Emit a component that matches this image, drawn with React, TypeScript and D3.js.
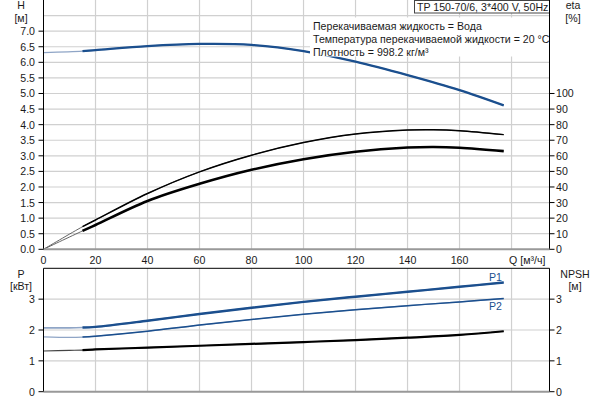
import React from "react";
import * as d3 from "d3";

// ---- data ----
const qTicks = [0, 20, 40, 60, 80, 100, 120, 140, 160];
const hTicks = [0, 0.5, 1, 1.5, 2, 2.5, 3, 3.5, 4, 4.5, 5, 5.5, 6, 6.5, 7];
const etaTicks = [0, 10, 20, 30, 40, 50, 60, 70, 80, 90, 100];
const pTicks = [0, 1, 2, 3];

const qH = [0, 15, 20, 40, 60, 80, 100, 120, 140, 160, 177];
const headH = [6.31, 6.36, 6.39, 6.52, 6.59, 6.56, 6.36, 6.02, 5.59, 5.11, 4.62];

const qEta = [0, 15, 20, 40, 60, 80, 100, 120, 140, 150, 160, 177];
const etaUpper = [0, 14.5, 18.8, 35.8, 49.7, 60.4, 68.5, 74.0, 76.5, 76.7, 76.1, 73.6];
const etaLower = [0, 11.8, 15.6, 31.0, 42.0, 51.0, 57.8, 62.6, 65.3, 65.7, 65.2, 63.0];

const qP = [0, 10, 15, 20, 40, 60, 80, 100, 120, 140, 160, 177];
const p1 = [2.07, 2.07, 2.08, 2.10, 2.30, 2.52, 2.72, 2.91, 3.08, 3.24, 3.40, 3.54];
const p2 = [1.78, 1.76, 1.77, 1.80, 1.96, 2.16, 2.34, 2.51, 2.66, 2.79, 2.91, 3.02];
const npsh = [1.32, 1.34, 1.35, 1.37, 1.43, 1.49, 1.55, 1.61, 1.67, 1.75, 1.84, 1.96];

const infoLines = [
  "Перекачиваемая жидкость = Вода",
  "Температура перекачиваемой жидкости = 20 °C",
  "Плотность = 998.2 кг/м³",
];
const titleText = "TP 150-70/6, 3*400 V, 50Hz";

// ---- layout ----
const L = 43.5;
const R = 549.5;
const topT = 0;
const topB = 249.3;
const botT = 268.3;
const botB = 391.7;

const BLUE = "#1b4f8e";
const LIGHTBLUE = "#8fa5c6";
const GRID = "#d0d0d0";
const FONT = "'Liberation Sans', Arial, sans-serif";
const TXT = "#1a1a1a";
const FS = 10.6;

export default function App() {
  const x = d3.scaleLinear().domain([0, 194.6]).range([L, R]);
  const yH = d3.scaleLinear().domain([0, 8]).range([topB, topT]);
  const yEta = d3.scaleLinear().domain([0, 160]).range([topB, topT]);
  const yP = d3.scaleLinear().domain([0, 4]).range([botB, botT]);

  const mk = (qs: number[], vs: number[], ys: d3.ScaleLinear<number, number>, from = 0) =>
    d3
      .line<number>()
      .x((i) => x(qs[i]))
      .y((i) => ys(vs[i]))
      .curve(d3.curveCatmullRom.alpha(0.5))(d3.range(from, qs.length)) || "";

  const hGrid = d3.range(0.5, 8, 0.5);
  const vGrid = [20, 40, 60, 80, 100, 120, 140, 160, 180];
  const pGrid = [1, 2, 3];

  return (
    <svg
      width={600}
      height={400}
      style={{ position: "absolute", left: 0, top: 0, background: "#fff" }}
      fontFamily={FONT}
    >
      <rect x={0} y={0} width={600} height={400} fill="#fff" />
      {/* top grid */}
      {hGrid.map((v) => (
        <line key={"hg" + v} x1={L} x2={R} y1={yH(v)} y2={yH(v)} stroke={GRID} strokeWidth={1.2} />
      ))}
      {vGrid.map((v) => (
        <line key={"vg" + v} x1={x(v)} x2={x(v)} y1={topT} y2={topB} stroke={GRID} strokeWidth={1.2} />
      ))}
      {/* bottom grid */}
      {pGrid.map((v) => (
        <line key={"pg" + v} x1={L} x2={R} y1={yP(v)} y2={yP(v)} stroke={GRID} strokeWidth={1.2} />
      ))}
      {vGrid.map((v) => (
        <line key={"vg2" + v} x1={x(v)} x2={x(v)} y1={botT} y2={botB} stroke={GRID} strokeWidth={1.2} />
      ))}

      {/* top curves */}
      <path d={mk(qH, headH, yH)} fill="none" stroke={LIGHTBLUE} strokeWidth={1.3} />
      <path d={mk(qH, headH, yH, 1)} fill="none" stroke={BLUE} strokeWidth={2.3} />
      <path d={mk(qEta, etaUpper, yEta)} fill="none" stroke="#555" strokeWidth={0.9} />
      <path d={mk(qEta, etaUpper, yEta, 1)} fill="none" stroke="#000" strokeWidth={1.5} />
      <path d={mk(qEta, etaLower, yEta)} fill="none" stroke="#555" strokeWidth={0.9} />
      <path d={mk(qEta, etaLower, yEta, 1)} fill="none" stroke="#000" strokeWidth={2.6} />

      {/* bottom curves */}
      <path d={mk(qP, p1, yP)} fill="none" stroke={LIGHTBLUE} strokeWidth={1.6} />
      <path d={mk(qP, p1, yP, 2)} fill="none" stroke={BLUE} strokeWidth={2.4} />
      <path d={mk(qP, p2, yP)} fill="none" stroke={LIGHTBLUE} strokeWidth={1.2} />
      <path d={mk(qP, p2, yP, 2)} fill="none" stroke={BLUE} strokeWidth={1.5} />
      <path d={mk(qP, npsh, yP)} fill="none" stroke="#444" strokeWidth={1.2} />
      <path d={mk(qP, npsh, yP, 2)} fill="none" stroke="#000" strokeWidth={2.2} />

      {/* info box */}
      <rect x={310} y={17.5} width={R - 310} height={39} fill="#fff" />
      {infoLines.map((t, i) => (
        <text key={t} x={313} y={26 + i * 12.8} fontSize={FS} fill={TXT} dominantBaseline="central">
          {t}
        </text>
      ))}
      <rect x={414.5} y={0.5} width={R - 414.5} height={12.5} fill="#fff" stroke="#444" strokeWidth={1} />
      <text x={417} y={7} fontSize={FS} fill={TXT} dominantBaseline="central">
        {titleText}
      </text>

      {/* frames */}
      <line x1={L} x2={L} y1={topT} y2={topB} stroke="#000" strokeWidth={1} />
      <line x1={R} x2={R} y1={topT} y2={topB} stroke="#000" strokeWidth={1} />
      <line x1={L} x2={R} y1={topB} y2={topB} stroke="#999" strokeWidth={2} />
      <line x1={L} x2={R} y1={botT} y2={botT} stroke="#000" strokeWidth={1} />
      <line x1={L} x2={L} y1={botT} y2={botB} stroke="#000" strokeWidth={1} />
      <line x1={R} x2={R} y1={botT} y2={botB} stroke="#000" strokeWidth={1} />
      <line x1={L} x2={R} y1={botB} y2={botB} stroke="#999" strokeWidth={2} />

      {/* left H axis */}
      {hTicks.map((v) => (
        <g key={"ht" + v}>
          <line x1={L - 5} x2={L} y1={yH(v)} y2={yH(v)} stroke="#000" />
          <text x={35} y={yH(v)} fontSize={FS} textAnchor="end" dominantBaseline="central" fill={TXT}>
            {v.toFixed(1)}
          </text>
        </g>
      ))}
      <text x={21} y={5} fontSize={FS} textAnchor="middle" dominantBaseline="central" fill={TXT}>H</text>
      <text x={21} y={17.5} fontSize={FS} textAnchor="middle" dominantBaseline="central" fill={TXT}>[м]</text>

      {/* right eta axis */}
      {etaTicks.map((v) => (
        <g key={"et" + v}>
          <line x1={R} x2={R + 5} y1={yEta(v)} y2={yEta(v)} stroke="#000" />
          <text x={556} y={yEta(v)} fontSize={FS} dominantBaseline="central" fill={TXT}>
            {v}
          </text>
        </g>
      ))}
      <text x={573} y={5} fontSize={FS} textAnchor="middle" dominantBaseline="central" fill={TXT}>eta</text>
      <text x={573} y={17.5} fontSize={FS} textAnchor="middle" dominantBaseline="central" fill={TXT}>[%]</text>

      {/* x axis labels */}
      {qTicks.map((v) => (
        <text key={"qt" + v} x={x(v)} y={259.5} fontSize={FS} textAnchor="middle" dominantBaseline="central" fill={TXT}>
          {v}
        </text>
      ))}
      <text x={509} y={259.5} fontSize={FS} dominantBaseline="central" fill={TXT}>Q [м³/ч]</text>

      {/* bottom left P axis */}
      {pTicks.map((v) => (
        <g key={"pt" + v}>
          <line x1={L - 5} x2={L} y1={yP(v)} y2={yP(v)} stroke="#000" />
          <text x={35} y={yP(v)} fontSize={FS} textAnchor="end" dominantBaseline="central" fill={TXT}>
            {v}
          </text>
        </g>
      ))}
      <text x={21} y={273.5} fontSize={FS} textAnchor="middle" dominantBaseline="central" fill={TXT}>P</text>
      <text x={21} y={286} fontSize={FS} textAnchor="middle" dominantBaseline="central" fill={TXT}>[кВт]</text>

      {/* bottom right NPSH axis */}
      {pTicks.map((v) => (
        <g key={"nt" + v}>
          <line x1={R} x2={R + 5} y1={yP(v)} y2={yP(v)} stroke="#000" />
          <text x={556} y={yP(v)} fontSize={FS} dominantBaseline="central" fill={TXT}>
            {v}
          </text>
        </g>
      ))}
      <text x={575} y={273.5} fontSize={FS} textAnchor="middle" dominantBaseline="central" fill={TXT}>NPSH</text>
      <text x={575} y={286} fontSize={FS} textAnchor="middle" dominantBaseline="central" fill={TXT}>[м]</text>

      {/* curve labels */}
      <text x={489} y={276.5} fontSize={FS} dominantBaseline="central" fill={BLUE}>P1</text>
      <text x={489} y={305.5} fontSize={FS} dominantBaseline="central" fill={BLUE}>P2</text>
    </svg>
  );
}
